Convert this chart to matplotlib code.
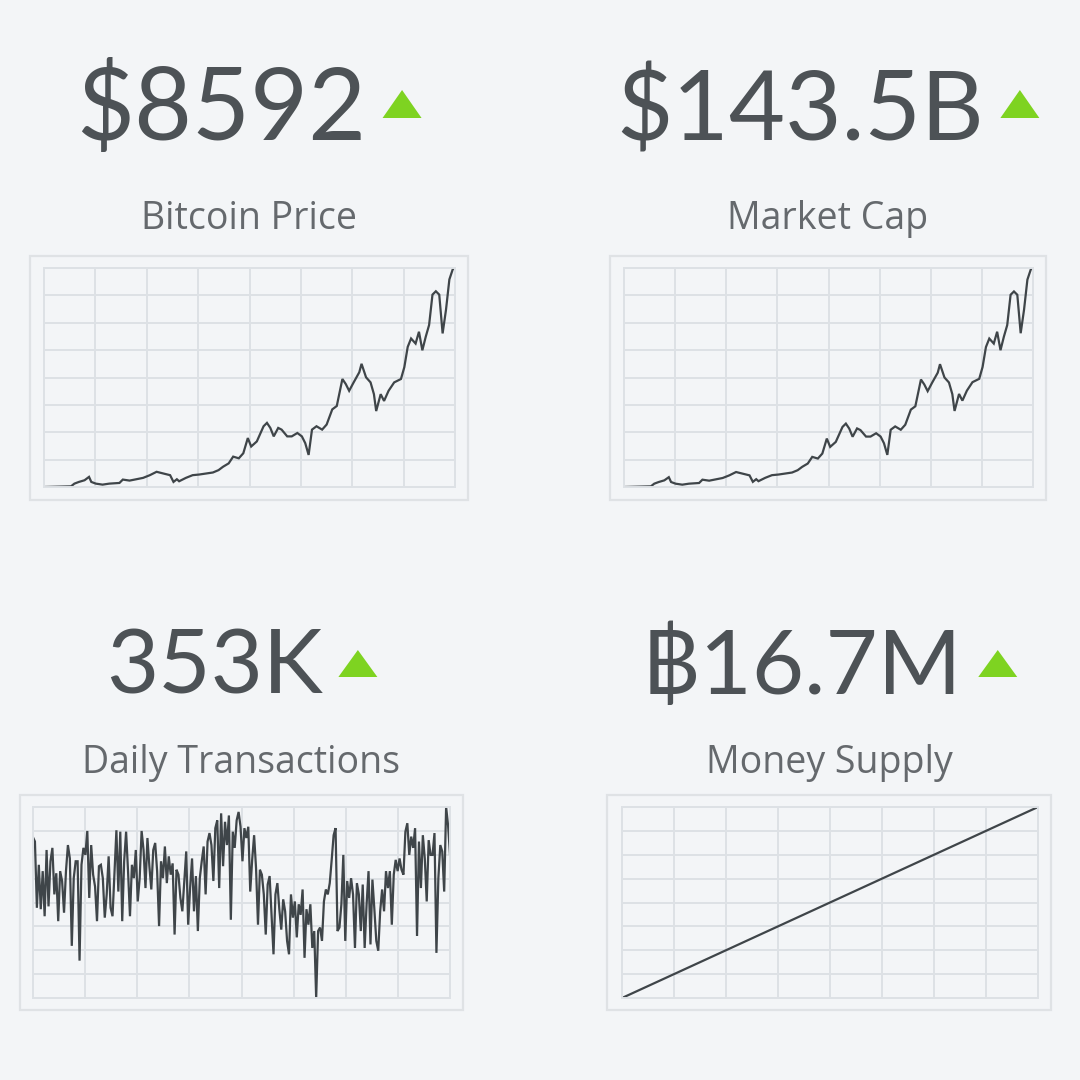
import numpy as np
import matplotlib
matplotlib.use("Agg")
import matplotlib.pyplot as plt
from matplotlib.patches import Rectangle, Polygon

plt.rcParams['font.family'] = ['Lato', 'DejaVu Sans']

BG = "#f3f5f7"
GRID = "#dde1e5"
BOX = "#dfe2e5"
LINE = "#3f4549"
NUM = "#4d5256"
LABEL = "#65696d"
UP = "#7ed321"

# Bitcoin price, USD (day index from start, value)
price_days = [0, 24, 27, 31, 36, 40, 42, 46, 52, 58, 67, 70, 76, 82, 88, 94, 100, 106,
              112, 115, 118, 120, 126, 132, 138, 144, 150, 155, 159, 164, 168, 173, 177,
              181, 184, 189, 195, 198, 201, 204, 208, 211, 216, 220, 225, 229, 232, 235,
              238, 242, 247, 251, 256, 260, 265, 268, 271, 275, 280, 282, 286, 290, 293,
              295, 299, 302, 306, 311, 317, 320, 323, 326, 330, 333, 336, 339, 342, 345,
              348, 351, 354, 357, 360, 363, 365]
price_usd = [740, 764, 861, 922, 982, 1103, 922, 861, 825, 861, 885, 1006, 970, 1018,
             1067, 1164, 1285, 1224, 1164, 922, 1018, 946, 1067, 1164, 1188, 1224, 1260,
             1345, 1466, 1587, 1829, 1769, 1950, 2495, 2192, 2374, 2918, 3039, 2858, 2555,
             2858, 2797, 2555, 2555, 2676, 2555, 2313, 1890, 2797, 2918, 2797, 2979, 3523,
             3644, 4612, 4431, 4189, 4491, 4854, 5157, 4673, 4491, 4068, 3463, 4068, 3826,
             4189, 4491, 4612, 5036, 5762, 6064, 5883, 6306, 5641, 6125, 6548, 7637, 7758,
             7637, 6246, 7093, 8182, 8545, 8592]

# Market cap, billions USD (same days)
mcap_bn = [11.9, 12.3, 13.9, 14.9, 15.9, 17.8, 14.9, 13.9, 13.3, 13.9, 14.3, 16.3, 15.7,
           16.5, 17.3, 18.9, 20.9, 19.9, 18.9, 15.0, 16.6, 15.4, 17.4, 19.0, 19.4, 20.0,
           20.6, 22.0, 24.0, 26.0, 30.0, 29.0, 32.0, 41.0, 36.0, 39.0, 48.0, 50.0, 47.0,
           42.1, 47.1, 46.1, 42.2, 42.2, 44.2, 42.2, 38.2, 31.2, 46.3, 48.3, 46.3, 49.3,
           58.4, 60.4, 76.5, 73.5, 69.5, 74.6, 80.6, 85.7, 77.7, 74.7, 67.7, 57.6, 67.8,
           63.8, 69.8, 74.9, 76.9, 84.0, 96.0, 101.1, 98.1, 105.2, 94.1, 102.2, 109.2,
           127.4, 129.4, 127.4, 104.3, 118.4, 136.5, 142.6, 143.5]

# Daily confirmed transactions, thousands
tx_k = [377, 371, 277, 338, 275, 329, 265, 359, 279, 343, 362, 296, 326, 258, 329, 315,
        270, 329, 366, 347, 223, 319, 343, 343, 202, 338, 362, 352, 386, 291, 366, 324,
        307, 258, 336, 338, 319, 263, 296, 350, 277, 265, 326, 387, 300, 385, 258, 343,
        385, 329, 265, 338, 319, 359, 286, 319, 386, 359, 305, 376, 336, 303, 359, 369,
        329, 251, 343, 319, 364, 312, 350, 324, 340, 239, 331, 324, 291, 272, 315, 357,
        253, 305, 347, 272, 322, 244, 319, 343, 364, 296, 371, 383, 366, 315, 390, 401,
        305, 411, 336, 399, 366, 408, 260, 385, 362, 401, 413, 392, 343, 390, 376, 392,
        300, 345, 380, 333, 253, 331, 324, 296, 239, 310, 322, 267, 211, 296, 312, 275,
        246, 289, 272, 230, 211, 296, 263, 286, 235, 282, 267, 303, 206, 275, 253, 282,
        220, 244, 149, 244, 249, 230, 286, 303, 296, 312, 345, 380, 390, 244, 249, 282,
        352, 230, 315, 291, 319, 296, 220, 312, 296, 244, 310, 220, 282, 329, 225, 317,
        275, 230, 216, 272, 303, 272, 329, 305, 329, 253, 324, 345, 329, 347, 331, 324,
        385, 397, 352, 378, 362, 390, 237, 371, 305, 380, 347, 286, 373, 352, 352, 383,
        213, 319, 366, 357, 300, 420, 394, 353]

# Bitcoin money supply, millions BTC (monthly)
supply_m = [16.040, 16.095, 16.150, 16.205, 16.260, 16.315, 16.370, 16.425, 16.480,
            16.535, 16.590, 16.645, 16.700]

panels = [
    # value text, label, x data, y data, outer box px, inner plot px, baselines, size
    ("$8592", "Bitcoin Price", price_days, price_usd,
     (30, 256, 468, 500), (44, 268, 455, 487), 140, 229, 72),
    ("$143.5B", "Market Cap", price_days, mcap_bn,
     (610, 256, 1046, 500), (624, 268, 1033, 487), 140, 229, 70),
    ("353K", "Daily Transactions", list(range(len(tx_k))), tx_k,
     (20, 795, 463, 1010), (33, 807, 450, 998), 694, 773, 65),
    ("\u0E3F16.7M", "Money Supply", list(range(len(supply_m))), supply_m,
     (607, 795, 1051, 1010), (622, 807, 1038, 998), 694, 773, 65),
]

W = 1080.0
fig = plt.figure(figsize=(10.8, 10.8), dpi=100, facecolor=BG)

big_texts = []
for value, label, xs, ys, box, inner, base, lbase, size in panels:
    bx0, by0, bx1, by1 = box
    fig.patches.append(Rectangle((bx0 / W, 1 - by1 / W), (bx1 - bx0) / W, (by1 - by0) / W,
                                 transform=fig.transFigure, facecolor="none",
                                 edgecolor=BOX, lw=1.6, zorder=-1))
    ix0, iy0, ix1, iy1 = inner
    ax = fig.add_axes([ix0 / W, 1 - iy1 / W, (ix1 - ix0) / W, (iy1 - iy0) / W], zorder=2)
    ax.set_facecolor(BG)
    ax.plot(xs, ys, color=LINE, lw=1.6, solid_joinstyle="miter")
    ax.set_xlim(min(xs), max(xs))
    ax.set_ylim(min(ys), max(ys))
    ax.set_xticks(np.linspace(min(xs), max(xs), 9))
    ax.set_yticks(np.linspace(min(ys), max(ys), 9))
    ax.tick_params(length=0, labelbottom=False, labelleft=False)
    ax.grid(True, color=GRID, lw=1.4)
    ax.set_axisbelow(True)
    for s in ax.spines.values():
        s.set_color(GRID)
        s.set_linewidth(1.4)

    cx = (bx0 + bx1) / 2 / W
    t = fig.text(cx, 1 - base / W, value, ha="left", va="baseline",
                 fontsize=size, color=NUM)
    fig.text(cx, 1 - lbase / W, label, ha="center", va="baseline",
             fontsize=27, color=LABEL, family=["Open Sans", "DejaVu Sans"])
    big_texts.append((t, cx, base, size))

# center each value + arrow group on its panel
fig.canvas.draw()
r = fig.canvas.get_renderer()
for t, cx, base, size in big_texts:
    bb = t.get_window_extent(r)
    w = bb.width
    gap, tw = 16, 39
    th = 28 if base < 300 else 27
    off = 22 if base < 300 else 17
    left = cx * W - (w + gap + tw) / 2
    t.set_x(left / W)
    tx0 = left + w + gap
    yb = 1 - (base - off) / W
    tri = Polygon([(tx0 / W, yb), ((tx0 + tw) / W, yb), ((tx0 + tw / 2) / W, yb + th / W)],
                  closed=True, transform=fig.transFigure, facecolor=UP, edgecolor="none")
    fig.patches.append(tri)

fig.savefig("out.png", dpi=100, facecolor=BG)
